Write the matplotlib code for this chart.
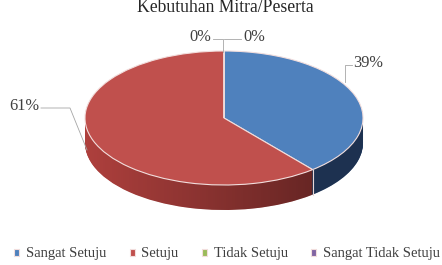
import numpy as np
import matplotlib.pyplot as plt
from matplotlib.path import Path
from matplotlib.patches import PathPatch

# -----------------------------
# data
# -----------------------------
labels = ["Sangat Setuju", "Setuju", "Tidak Setuju", "Sangat Tidak Setuju"]
values = [39, 61, 0, 0]
pct_text = ["39%", "61%", "0%", "0%"]
top_colors = ["#4F81BD", "#C0504D", "#9BBB59", "#8064A2"]
side_colors = ["#32568A", "#AE403D", "#6F8C3A", "#5A4780"]
title = "Kebutuhan Mitra/Peserta"

# -----------------------------
# layout (pixels)
# -----------------------------
W, H = 442, 265
CX, CY, RX, RY = 224, 118, 139, 67
DEPTH = 25
SERIF = ["Liberation Serif", "DejaVu Serif"]


def px(x, y):
    return (x - CX) / RX, (CY - y) / RY


fig = plt.figure(figsize=(W / 100, H / 100), dpi=100)
ax = fig.add_axes([0, 0, 1, 1])

# side of the 3D pie: stacked pies shifted down
n_layers = 40
dz = DEPTH / RY
for k in range(n_layers, 0, -1):
    off = dz * k / n_layers
    ax.pie(values, colors=side_colors, startangle=90, counterclock=False,
           center=(0, -off), radius=1, normalize=True,
           wedgeprops=dict(linewidth=0, zorder=1))

# shading on the side, darker towards the right
t = np.linspace(np.pi, 2 * np.pi, 300)
ex, ey = np.cos(t), np.sin(t)
band = list(zip(ex, ey)) + list(zip(ex[::-1], ey[::-1] - dz))
clip = PathPatch(Path(band), facecolor="none", edgecolor="none")
ax.add_patch(clip)
gx = np.linspace(-1, 1, 256)
shade = np.zeros((1, 256, 4))
shade[..., 3] = np.clip((gx + 1) / 1.69, 0, 1) * 0.42
im = ax.imshow(shade, extent=[-1, 1, -1 - dz, 0], aspect="auto",
               interpolation="bilinear", zorder=1.5)
im.set_clip_path(clip)

# top face
wedges, _ = ax.pie(values, colors=top_colors, startangle=90, counterclock=False,
                   center=(0, 0), radius=1, normalize=True,
                   wedgeprops=dict(edgecolor="#F2DEDD", linewidth=0.8, zorder=2))

# seam line on the side where blue meets red
ang = np.deg2rad(90 - 360 * values[0] / sum(values))
sx, sy = np.cos(ang), np.sin(ang)
ax.plot([sx, sx], [sy, sy - dz], color="#E8D8D8", lw=0.8, zorder=2.5)

# data labels + leader lines
lab_pos = [(353, 63, "left"), (39, 106, "right"), (211, 37, "right"), (243, 37, "left")]
leaders = [
    [(352, 65), (345, 65), (345, 82)],
    [(41, 108), (70, 108), (87, 150)],
    [(213, 39), (223, 39), (223, 52)],
    [(241, 39), (224, 39)],
]
for txt, (x, y, ha), pts in zip(pct_text, lab_pos, leaders):
    tx, ty = px(x, y)
    ax.text(tx, ty, txt, ha=ha, va="center", fontsize=11.8,
            family=SERIF, color="#404040")
    xs, ys = zip(*[px(a, b) for a, b in pts])
    ax.plot(xs, ys, color="#A6A6A6", lw=0.6, zorder=3)

ax.set_xlim((0 - CX) / RX, (W - CX) / RX)
ax.set_ylim((CY - H) / RY, CY / RY)
ax.set_aspect("auto")
ax.axis("off")

fig.text(225 / W, 1 - 8 / H, title, ha="center", va="center",
         fontsize=12.7, family=SERIF, color="#262626")

leg = ax.legend(wedges, labels, loc="center", ncol=4, frameon=False,
                bbox_to_anchor=(227 / W, 1 - 254 / H),
                bbox_transform=fig.transFigure,
                prop=dict(family=SERIF, size=10.5),
                handlelength=0.35, handleheight=0.35,
                handletextpad=0.45, columnspacing=1.6, borderaxespad=0)
for t in leg.get_texts():
    t.set_color("#404040")

fig.savefig("out.png", dpi=100)
